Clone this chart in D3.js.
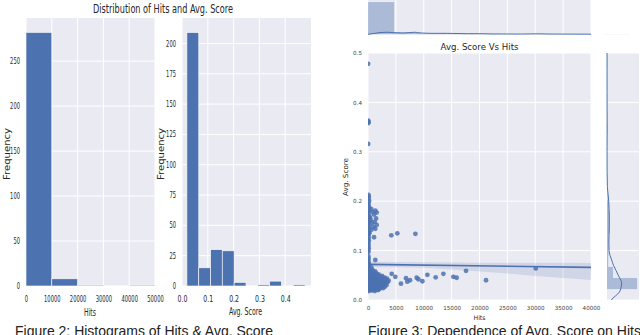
<!DOCTYPE html>
<html><head><meta charset="utf-8">
<script src="https://cdn.jsdelivr.net/npm/d3@7"></script>
<style>body{margin:0;background:#fff}svg{display:block}</style>
</head><body>
<svg id="c" width="640" height="335"></svg>
<script>
// ---------------- data ----------------
const hitsBinEdges = [0, 10000, 20000, 30000, 40000, 50000];
const hitsCounts = [282, 8, 1, 0, 1];
const hitsTicks = [0, 10000, 20000, 30000, 40000, 50000];
const hitsFreqTicks = [0, 50, 100, 150, 200, 250];

const scoreBinEdges = [0.019, 0.065, 0.111, 0.156, 0.202, 0.248, 0.294, 0.340, 0.385, 0.431, 0.477];
const scoreCounts = [209, 15, 30, 29, 3, 0, 1, 4, 0, 1];
const scoreTicks = [0, 0.1, 0.2, 0.3, 0.4];
const scoreFreqTicks = [0, 25, 50, 75, 100, 125, 150, 175, 200];

const jointHitsTicks = [0, 5000, 10000, 15000, 20000, 25000, 30000, 35000, 40000];
const jointScoreTicks = [0, 0.1, 0.2, 0.3, 0.4, 0.5];

const topHistEdges = [0, 4700, 9400, 14100, 18800, 23500, 28200, 32900, 37600, 42300, 47000];
const topHistCounts = [266, 13, 5, 4, 2, 0, 1, 0, 0, 1];
const topKdeHits = [0, 900, 2150, 3400, 4500, 6300, 8430, 9330, 11100, 14200, 17800, 20100, 22400, 27300, 30300, 33200, 40000];
const topKdeVal  = [0, 6, 14, 17, 14, 11, 17, 11, 8, 8, 5, 5, 3, 2, 4, 2, 1];

const rightHistEdges = [0.022, 0.0445, 0.067, 0.0895, 0.112, 0.1345, 0.157, 0.1795, 0.202, 0.2245, 0.247, 0.2695, 0.292, 0.3145, 0.337, 0.3595, 0.382, 0.4045, 0.427, 0.4495, 0.472, 0.4945];
const rightHistCounts = [175, 35, 7, 9, 10, 17, 17, 12, 3, 0, 0, 0, 0, 1, 3, 1, 0, 0, 0, 0, 1];
const rightKdeScore = [0.0, 0.004, 0.012, 0.02, 0.034, 0.047, 0.06, 0.07, 0.081, 0.09, 0.1, 0.115, 0.135, 0.15, 0.168, 0.185, 0.2, 0.215, 0.23, 0.26, 0.3, 0.36, 0.42, 0.48, 0.5];
const rightKdeVal   = [25, 35, 62, 78, 85, 70, 52, 38, 27, 18, 12, 11, 12, 13, 13, 12, 10, 6, 2, 0.6, 0.3, 0.8, 0.3, 0.3, 0.2];

const regHits = [0, 40000];
const regScore = [0.0722, 0.0660];
const ciHits  = [0, 5000, 10000, 15000, 20000, 25000, 30000, 35000, 40000];
const ciUpper = [0.0779, 0.0769, 0.0763, 0.0759, 0.0755, 0.0755, 0.0755, 0.0753, 0.0749];
const ciLower = [0.0664, 0.0662, 0.0654, 0.0617, 0.0577, 0.0536, 0.0486, 0.0445, 0.0405];

const columnPoints = [
[20,0.478],[40,0.361],[70,0.360],[10,0.358],[30,0.363],[30,0.316],
[80,0.213],[150,0.209],[60,0.205],[200,0.201],[100,0.197],[40,0.193],[120,0.190],[250,0.186],[60,0.183],[180,0.180],[90,0.176],[30,0.172],[220,0.169],[110,0.165],[50,0.161],[160,0.158],[80,0.154],[240,0.150],[20,0.147],[130,0.143],[70,0.139],[190,0.136],[40,0.132],[100,0.128],[60,0.124],[150,0.120],[30,0.116],[90,0.112],[50,0.108],[120,0.104],[20,0.100],[70,0.097],
[40,0.089],[100,0.085],[60,0.081],[20,0.078],[150,0.074],[80,0.071],[30,0.068],[200,0.065],[50,0.062],[120,0.059]
];
const upperClusterPoints = [
[590,0.184],[1310,0.181],[1560,0.177],[1080,0.173],[360,0.167],[720,0.156],[1200,0.158],[1560,0.152],[950,0.148],[1310,0.144],[590,0.142],[1080,0.127],[230,0.135],[480,0.162],[820,0.178],[1450,0.165],
[4180,0.131],[5260,0.135],[8500,0.134],[1310,0.081]
];
const spreadPoints = [
[4250,0.053],[4900,0.047],[5920,0.033],[6820,0.044],[7050,0.037],[7530,0.040],[8730,0.045],[9030,0.042],[9750,0.038],[10650,0.051],[12140,0.046],[13520,0.053],[15310,0.047],[15900,0.045],[17580,0.059],[21170,0.040],[30090,0.064],[3700,0.039]
];
const clusterPoints = [
[100,0.018],[600,0.019],[1200,0.018],[1800,0.020],
[50,0.021],[300,0.022],[700,0.021],[1100,0.022],[1500,0.021],[2000,0.022],
[150,0.024],[500,0.025],[900,0.024],[1300,0.025],[1800,0.024],[2300,0.025],[2700,0.024],
[30,0.027],[250,0.028],[600,0.027],[1000,0.028],[1400,0.027],[1700,0.028],[2100,0.027],[2500,0.028],[3000,0.027],
[100,0.030],[400,0.031],[800,0.030],[1200,0.031],[1600,0.030],[1900,0.031],[2400,0.030],[2800,0.031],[3300,0.030],
[60,0.033],[350,0.034],[650,0.033],[950,0.034],[1250,0.033],[1550,0.034],[1850,0.033],[2200,0.034],[2600,0.033],[3100,0.034],
[20,0.036],[300,0.037],[550,0.036],[850,0.037],[1150,0.036],[1450,0.037],[1750,0.036],[2050,0.037],[2450,0.036],[2900,0.037],[3500,0.036],
[80,0.039],[400,0.040],[700,0.039],[1000,0.040],[1300,0.039],[1600,0.040],[2000,0.039],[2350,0.040],[2750,0.039],[3200,0.040],
[40,0.042],[250,0.043],[600,0.042],[900,0.043],[1200,0.042],[1500,0.043],[1900,0.042],[2300,0.043],[2650,0.042],[3400,0.043],
[120,0.045],[450,0.046],[800,0.045],[1100,0.046],[1400,0.045],[1700,0.046],[2100,0.045],[2600,0.046],[3000,0.045],
[60,0.048],[350,0.049],[700,0.048],[1000,0.049],[1350,0.048],[1650,0.049],[2000,0.048],[2500,0.049],
[200,0.051],[500,0.052],[850,0.051],[1200,0.052],[1550,0.051],[1900,0.052],
[80,0.054],[400,0.055],[750,0.054],[1100,0.055],[1450,0.054],
[150,0.057],[500,0.058],[900,0.057],[1300,0.058],
[50,0.061],[350,0.062],[800,0.061],
[100,0.065],[600,0.066]
];

const titleLeft = "Distribution of Hits and Avg. Score";
const titleRight = "Avg. Score Vs Hits";
const captionLeft = "Figure 2: Histograms of Hits & Avg. Score";
const captionRight = "Figure 3: Dependence of Avg. Score on Hits";

// ---------------- drawing ----------------
const BLUE = "#4c72b0", BG = "#eaeaf2", TXT = "#262626";
const svg = d3.select("#c");
const FONT = "DejaVu Sans, sans-serif";

function squeeze(sel, perChar) {
  sel.each(function () {
    const t = d3.select(this).text();
    d3.select(this).attr("textLength", t.length * perChar).attr("lengthAdjust", "spacingAndGlyphs");
  });
}

function gridPanel(x, y, xTicks, yTicks, cls) {
  const g = svg.append("g").attr("class", cls);
  const [x0, x1] = x.range(), [y0, y1] = y.range();
  g.append("rect").attr("x", x0).attr("y", Math.min(y0, y1)).attr("width", x1 - x0)
    .attr("height", Math.abs(y0 - y1)).attr("fill", BG);
  g.selectAll("line.v").data(xTicks).join("line").attr("class", "v")
    .attr("x1", d => x(d)).attr("x2", d => x(d)).attr("y1", y0).attr("y2", y1)
    .attr("stroke", "#fff").attr("stroke-width", 1);
  g.selectAll("line.h").data(yTicks).join("line").attr("class", "h")
    .attr("y1", d => y(d)).attr("y2", d => y(d)).attr("x1", x0).attr("x2", x1)
    .attr("stroke", "#fff").attr("stroke-width", 1);
  return g;
}

function histV(g, x, y, edges, counts, style) {
  g.selectAll("rect.bar").data(counts).join("rect").attr("class", "bar")
    .attr("x", (d, i) => x(edges[i]))
    .attr("width", (d, i) => x(edges[i + 1]) - x(edges[i]))
    .attr("y", d => y(d)).attr("height", d => y(0) - y(d))
    .call(style);
}

// ---- Left: hits histogram ----
const xH = d3.scaleLinear().domain([0, 50000]).range([26, 155]);
const yH = d3.scaleLinear().domain([0, 298]).range([286, 18]);
const gH = gridPanel(xH, yH, hitsTicks, hitsFreqTicks, "hitsHist");
histV(gH, xH, yH, hitsBinEdges, hitsCounts, s => s.attr("fill", BLUE).attr("stroke", "#fff").attr("stroke-width", 0.6));

// ---- Left: score histogram ----
const xS = d3.scaleLinear().domain([0, 0.5]).range([182, 311]);
const yS = d3.scaleLinear().domain([0, 221]).range([286, 18]);
const gS = gridPanel(xS, yS, scoreTicks, scoreFreqTicks, "scoreHist");
histV(gS, xS, yS, scoreBinEdges, scoreCounts, s => s.attr("fill", BLUE).attr("stroke", "#fff").attr("stroke-width", 0.6));

function leftAxes(x, y, xTicks, yTicks, xFmt) {
  const ax = svg.append("g").attr("transform", `translate(0,${y.range()[0]})`)
    .call(d3.axisBottom(x).tickValues(xTicks).tickSize(0).tickPadding(0).tickFormat(xFmt));
  ax.select(".domain").remove();
  ax.selectAll("text").attr("y", 16).attr("dy", null).attr("font-family", FONT)
    .attr("font-size", 7.5).attr("fill", TXT).call(squeeze, 3.3)
    .attr("transform", "translate(0,0) scale(1,1.2)").attr("y", 13.3);
  const ay = svg.append("g").attr("transform", `translate(${x.range()[0]},0)`)
    .call(d3.axisLeft(y).tickValues(yTicks).tickSize(0).tickPadding(6).tickFormat(d3.format("d")));
  ay.select(".domain").remove();
  ay.selectAll("text").attr("font-family", FONT).attr("font-size", 8).attr("fill", TXT).call(squeeze, 3.3);
}
leftAxes(xH, yH, hitsTicks, hitsFreqTicks, d3.format("d"));
leftAxes(xS, yS, scoreTicks, scoreFreqTicks, d3.format(".1f"));

function label(x, y, text, size, len, rot, anchor) {
  const t = svg.append("text").attr("x", x).attr("y", y).text(text)
    .attr("font-family", FONT).attr("font-size", size).attr("fill", TXT)
    .attr("text-anchor", anchor || "middle");
  if (len) t.attr("textLength", len).attr("lengthAdjust", "spacingAndGlyphs");
  if (rot) t.attr("transform", `rotate(${rot},${x},${y})`);
  return t;
}
label(163, 12.5, titleLeft, 12.5, 140);
label(90, 316, "Hits", 10, 12);
label(245.5, 315, "Avg. Score", 10, 33);
label(10, 154, "Frequency", 9.5, 52, -90);
label(164, 154, "Frequency", 9.5, 52, -90);

// ---- Right: joint plot ----
const xJ = d3.scaleLinear().domain([0, 40000]).range([368, 591]);
const yJ = d3.scaleLinear().domain([0, 0.5]).range([300, 53]);
const gJ = gridPanel(xJ, yJ, jointHitsTicks, jointScoreTicks, "joint");

svg.append("clipPath").attr("id", "clipJ").append("rect")
  .attr("x", 368).attr("y", 53).attr("width", 223).attr("height", 247);
const gJc = svg.append("g").attr("clip-path", "url(#clipJ)");

const allPoints = [].concat(columnPoints, upperClusterPoints, spreadPoints, clusterPoints);
gJc.selectAll("circle").data(allPoints).join("circle")
  .attr("cx", d => xJ(d[0])).attr("cy", d => yJ(d[1])).attr("r", 2.4)
  .attr("fill", BLUE).attr("fill-opacity", 0.85);

const ciArea = d3.area().x((d, i) => xJ(ciHits[i])).y0((d, i) => yJ(ciLower[i])).y1((d, i) => yJ(ciUpper[i]));
gJc.append("path").datum(ciHits).attr("d", ciArea).attr("fill", BLUE).attr("fill-opacity", 0.16);
gJc.append("path").datum(regHits)
  .attr("d", d3.line().x(d => xJ(d)).y((d, i) => yJ(regScore[i])))
  .attr("stroke", BLUE).attr("stroke-width", 1.6).attr("fill", "none");

const axJ = svg.append("g").attr("transform", "translate(0,300)")
  .call(d3.axisBottom(xJ).tickValues(jointHitsTicks).tickSize(0).tickFormat(d3.format("d")));
axJ.select(".domain").remove();
axJ.selectAll("text").attr("y", 9.5).attr("dy", null).attr("font-family", FONT)
  .attr("font-size", 5.6).attr("fill", "#444");
const ayJ = svg.append("g").attr("transform", "translate(368,0)")
  .call(d3.axisLeft(yJ).tickValues(jointScoreTicks).tickSize(0).tickPadding(6).tickFormat(d3.format(".1f")));
ayJ.select(".domain").remove();
ayJ.selectAll("text").attr("font-family", FONT).attr("font-size", 5.6).attr("fill", "#444");

label(479.5, 50, titleRight, 8.5, 78);
label(479.5, 319.5, "Hits", 6.3, 12);
label(348, 177, "Avg. Score", 7, 38, -90);

// ---- top marginal ----
const yT = d3.scaleLinear().domain([0, 283]).range([34.3, 0]);
const gT = svg.append("g");
gT.append("rect").attr("x", 368).attr("y", -5).attr("width", 223).attr("height", 39.3).attr("fill", BG);
gT.selectAll("line").data(jointHitsTicks).join("line")
  .attr("x1", d => xJ(d)).attr("x2", d => xJ(d)).attr("y1", -5).attr("y2", 34.3)
  .attr("stroke", "#fff");
histV(gT, xJ, yT, topHistEdges, topHistCounts, s => s.attr("fill", BLUE).attr("fill-opacity", 0.4));
gT.append("path").datum(topKdeHits)
  .attr("d", d3.line().x(d => xJ(d)).y((d, i) => yT(topKdeVal[i])).curve(d3.curveMonotoneX))
  .attr("stroke", BLUE).attr("stroke-width", 1).attr("fill", "none");

// ---- right marginal ----
const xR = d3.scaleLinear().domain([0, 186]).range([607, 639]);
const gR = gridPanel(xR, yJ, [], jointScoreTicks, "rightMarg");
gR.selectAll("rect.bar").data(rightHistCounts).join("rect").attr("class", "bar")
  .attr("x", xR(0)).attr("width", d => xR(d) - xR(0))
  .attr("y", (d, i) => yJ(rightHistEdges[i + 1]))
  .attr("height", (d, i) => yJ(rightHistEdges[i]) - yJ(rightHistEdges[i + 1]))
  .attr("fill", BLUE).attr("fill-opacity", 0.4);
gR.append("path").datum(rightKdeScore)
  .attr("d", d3.line().y(d => yJ(d)).x((d, i) => xR(rightKdeVal[i])).curve(d3.curveMonotoneY))
  .attr("stroke", BLUE).attr("stroke-width", 1).attr("fill", "none");

// ---- captions ----
svg.append("text").attr("x", 15).attr("y", 335.5).text(captionLeft)
  .attr("font-family", "Liberation Sans, Arial, sans-serif").attr("font-size", 14).attr("fill", "#222");
svg.append("text").attr("x", 368).attr("y", 335.5).text(captionRight)
  .attr("font-family", "Liberation Sans, Arial, sans-serif").attr("font-size", 14).attr("fill", "#222");
</script>
</body></html>
